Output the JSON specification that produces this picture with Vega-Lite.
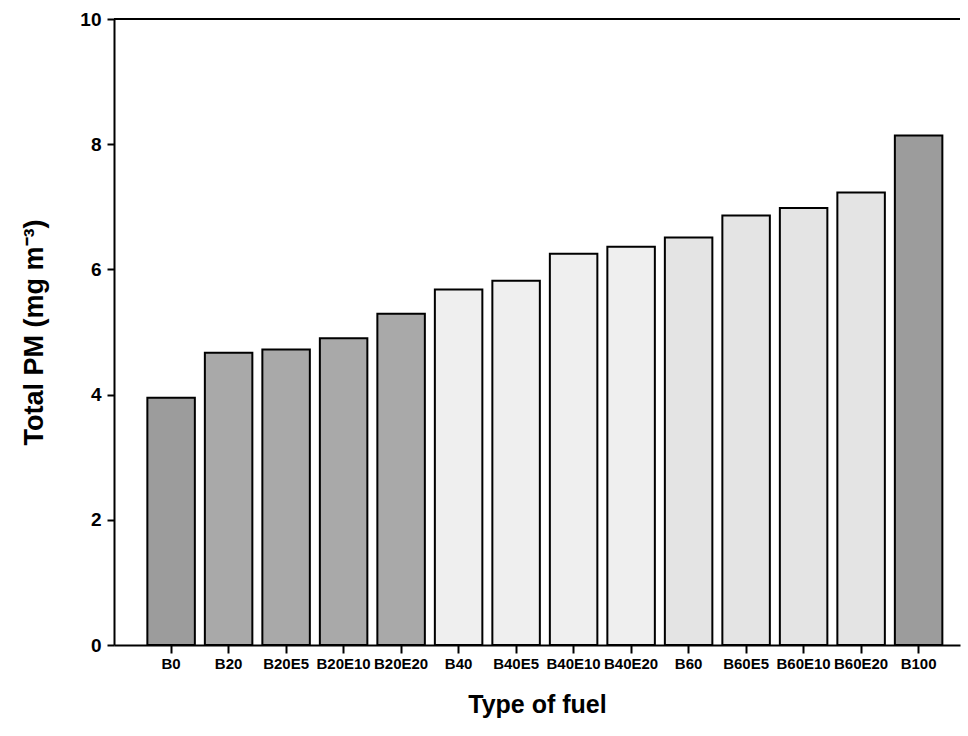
{
  "$schema": "https://vega.github.io/schema/vega-lite/v6.json",
  "width": 846,
  "height": 626,
  "autosize": {"type": "none"},
  "padding": {"left": 114, "top": 19, "right": 8, "bottom": 91},
  "config": {
    "view": {"stroke": null},
    "font": "Liberation Sans",
    "axis": {
      "domainColor": "black",
      "domainWidth": 2,
      "tickColor": "black",
      "tickWidth": 2,
      "labelColor": "black",
      "labelFont": "Liberation Sans",
      "labelFontWeight": "bold",
      "titleColor": "black",
      "titleFont": "Liberation Sans",
      "titleFontWeight": "bold",
      "grid": false
    }
  },
  "data": {
    "values": [
      {"fuel": "B0", "pm": 3.95, "series": "Neat"},
      {"fuel": "B20", "pm": 4.67, "series": "B20"},
      {"fuel": "B20E5", "pm": 4.72, "series": "B20"},
      {"fuel": "B20E10", "pm": 4.9, "series": "B20"},
      {"fuel": "B20E20", "pm": 5.29, "series": "B20"},
      {"fuel": "B40", "pm": 5.68, "series": "B40"},
      {"fuel": "B40E5", "pm": 5.82, "series": "B40"},
      {"fuel": "B40E10", "pm": 6.25, "series": "B40"},
      {"fuel": "B40E20", "pm": 6.36, "series": "B40"},
      {"fuel": "B60", "pm": 6.51, "series": "B60"},
      {"fuel": "B60E5", "pm": 6.86, "series": "B60"},
      {"fuel": "B60E10", "pm": 6.98, "series": "B60"},
      {"fuel": "B60E20", "pm": 7.23, "series": "B60"},
      {"fuel": "B100", "pm": 8.14, "series": "Neat"}
    ]
  },
  "layer": [
    {
      "mark": {"type": "bar", "stroke": "black", "strokeWidth": 2},
      "encoding": {
        "x": {
          "field": "fuel",
          "type": "nominal",
          "sort": null,
          "scale": {"paddingInner": 0.174, "paddingOuter": 0.4435, "align": 0.654},
          "axis": {
            "title": "Type of fuel",
            "titleFontSize": 25,
            "titlePadding": 21,
            "labelFontSize": 15,
            "labelAngle": 0,
            "labelPadding": 3,
            "tickSize": 8
          }
        },
        "y": {
          "field": "pm",
          "type": "quantitative",
          "scale": {"domain": [0, 10]},
          "axis": {
            "title": "Total PM (mg m⁻³)",
            "titleFontSize": 27,
            "titlePadding": 31,
            "labelFontSize": 19,
            "labelPadding": 6,
            "tickSize": 7,
            "format": "d",
            "values": [0, 2, 4, 6, 8, 10]
          }
        },
        "fill": {
          "field": "series",
          "type": "nominal",
          "scale": {
            "domain": ["Neat", "B20", "B40", "B60"],
            "range": ["#9c9c9c", "#a9a9a9", "#efefef", "#e4e4e4"]
          },
          "legend": null
        }
      }
    },
    {
      "mark": {"type": "rule", "color": "black", "strokeWidth": 2},
      "encoding": {"y": {"datum": 10}}
    }
  ]
}
